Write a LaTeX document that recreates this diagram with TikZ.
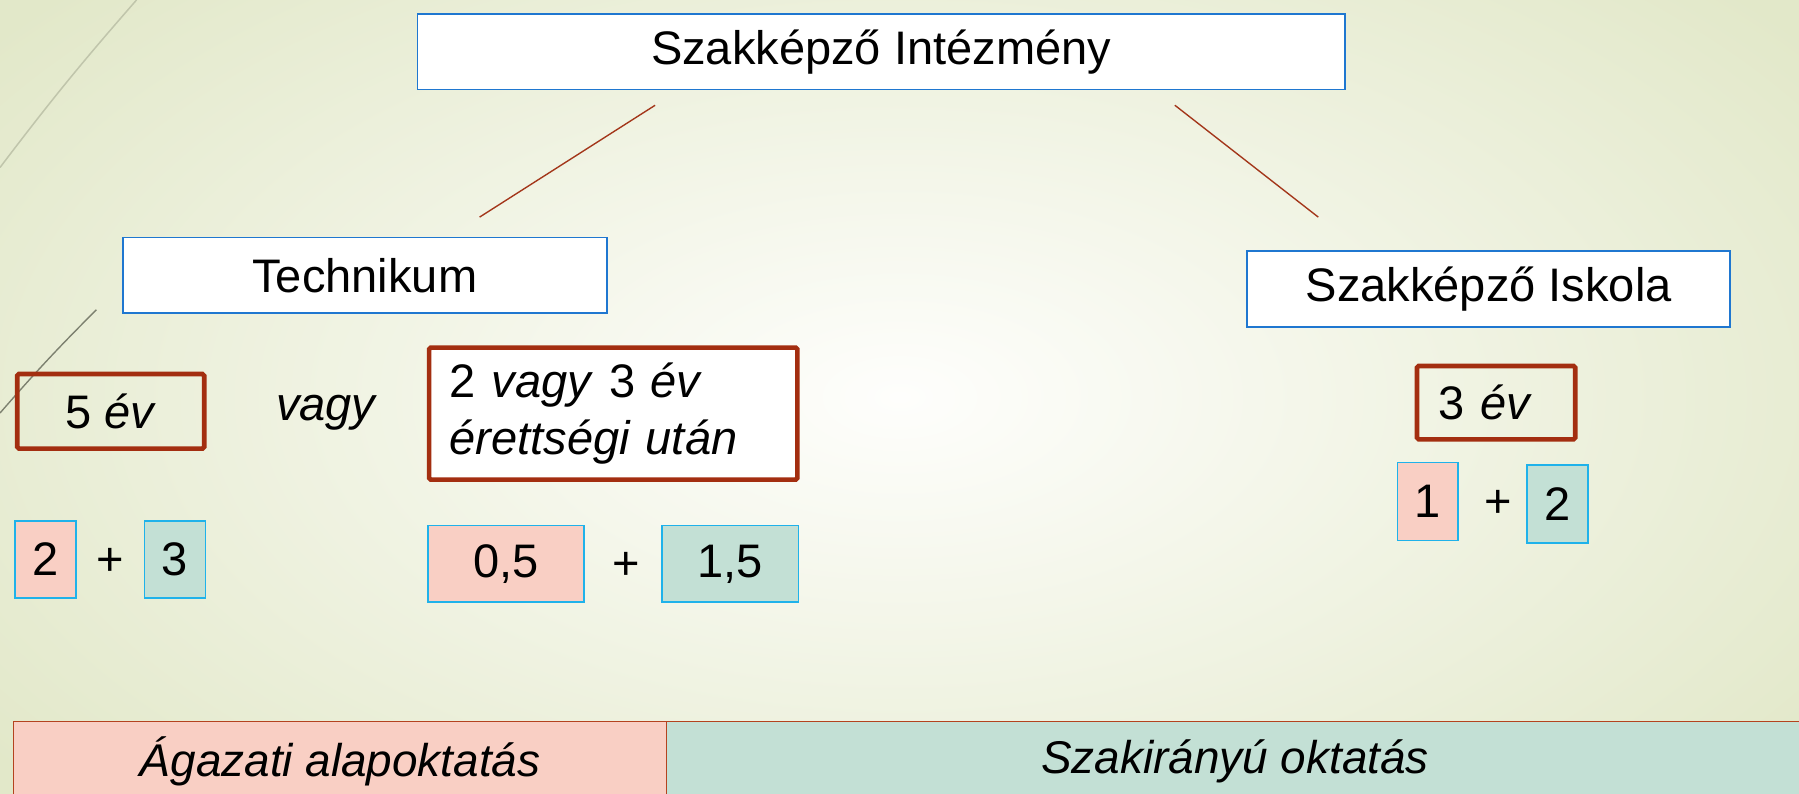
\documentclass[tikz,border=0pt]{standalone}
\usepackage{fontspec}
\setmainfont{Liberation Sans}

\definecolor{boxblue}{HTML}{1F77D0}
\definecolor{rustred}{HTML}{A32E10}
\definecolor{skyline}{HTML}{1FB2EA}
\definecolor{pinkfill}{HTML}{F9CFC4}
\definecolor{tealfill}{HTML}{C3E0D5}
\definecolor{bgedge}{HTML}{E2E8C9}
\definecolor{bgcenter}{HTML}{FEFEFC}
\definecolor{linkred}{HTML}{A3361A}
\definecolor{barred}{HTML}{B4431F}

\begin{document}
\begin{tikzpicture}[x=1pt, y=-1pt,
    every node/.style={font=\fontsize{41}{46}\selectfont},
    head_node/.style={draw=boxblue, line width=1.5pt, fill=white, minimum height=66pt, inner sep=0pt},
    dur_node/.style={draw=rustred, line width=4pt, rounded corners=1.5pt, inner sep=0pt},
    part_node/.style={draw=skyline, line width=1.5pt, inner sep=0pt, minimum height=67pt},
    bar_node/.style={draw=barred, line width=1.2pt, minimum height=70pt, inner sep=0pt, font=\fontsize{40}{46}\selectfont\itshape},
    link/.style={draw=linkred, line width=1.2pt}]

    \clip (0,0) rectangle (1568,692);
    \shade[inner color=bgcenter, outer color=bgedge] (-200,-180) rectangle (1768,872);
    \draw[color=black!15!bgedge, line width=1.3pt] (119,0) to[bend right=2] (0,146);
    \draw[color=black!45!bgedge, line width=1.2pt] (84,270) to[bend right=2] (0,360);

    \node[head_node, minimum width=808pt] (1) at (768,45) {Szakképző Intézmény};
    \node[head_node, minimum width=422pt] (2) at (318,240) {Technikum};
    \node[head_node, minimum width=421pt] (3) at (1297.5,252) {Szakképző Iskola};

    \node[dur_node, minimum width=163pt, minimum height=65pt] (4) at (96.5,358.5) {5 \textit{év}};
    \node (5) at (285,360) {\textit{vagy}};
    \node[dur_node, fill=white, minimum width=321pt, minimum height=115pt, text width=285pt, align=left, font=\fontsize{41}{49}\selectfont] (6) at (534.5,360.5) {2 \textit{vagy} 3 \textit{év}\\\textit{érettségi után}};
    \node[dur_node, minimum width=138pt, minimum height=64pt, text width=100pt, align=left] (7) at (1304,351) {3 \textit{év}};

    \node[part_node, fill=pinkfill, minimum width=53pt] (8) at (39.5,487.5) {2};
    \node (9) at (96,490) {+};
    \node[part_node, fill=tealfill, minimum width=53pt] (10) at (152.5,487.5) {3};
    \node[part_node, fill=pinkfill, minimum width=136pt] (11) at (441,491.5) {0,5};
    \node (12) at (546,493) {+};
    \node[part_node, fill=tealfill, minimum width=119pt] (13) at (636.5,491.5) {1,5};
    \node[part_node, fill=pinkfill, minimum width=53pt, minimum height=68pt] (14) at (1244.5,437) {1};
    \node (15) at (1306,439) {+};
    \node[part_node, fill=tealfill, minimum width=53pt, minimum height=68pt] (16) at (1357.5,439) {2};

    \node[bar_node, fill=pinkfill, minimum width=569pt] (17) at (296.5,664) {Ágazati alapoktatás};
    \node[bar_node, fill=tealfill, minimum width=991pt] (18) at (1076.5,664) {Szakirányú oktatás};

    \draw[link] ([xshift=-197pt,yshift=-13pt]1.south) -- ([xshift=100pt,yshift=17pt]2.north);
    \draw[link] ([xshift=256pt,yshift=-13pt]1.south) -- ([xshift=-148.5pt,yshift=29pt]3.north);

\end{tikzpicture}
\end{document}
